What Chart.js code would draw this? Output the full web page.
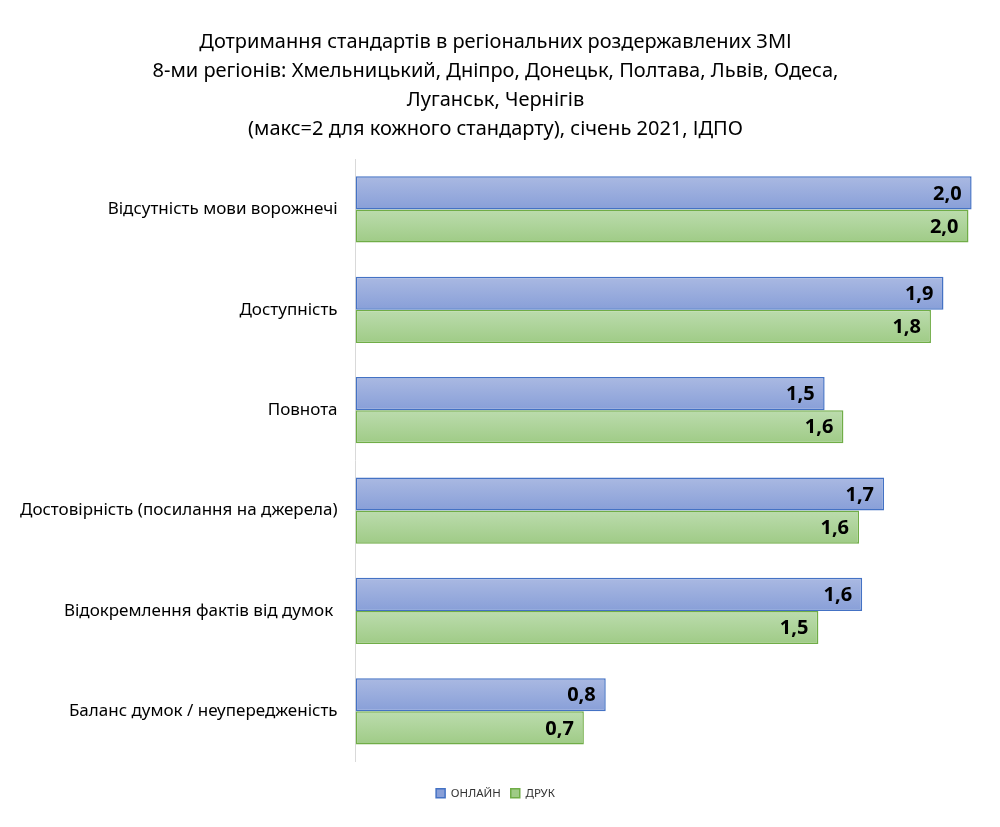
<!DOCTYPE html>
<html>
<head>
<meta charset="utf-8">
<script src="https://cdn.jsdelivr.net/npm/chart.js@4"></script>
<style>
  html, body { margin: 0; padding: 0; background: #fff; }
  #wrap { width: 1000px; height: 827px; }
</style>
</head>
<body>
<div id="wrap"><canvas id="chart"></canvas></div>
<script>
const categories = [
    'Відсутність мови ворожнечі',
    'Доступність',
    'Повнота',
    'Достовірність (посилання на джерела)',
    'Відокремлення фактів від думок ',
    'Баланс думок / неупередженість'
];
const onlineValues = [1.97, 1.88, 1.50, 1.69, 1.62, 0.80];
const printValues = [1.96, 1.84, 1.56, 1.61, 1.48, 0.73];
const seriesNames = ['ОНЛАЙН', 'ДРУК'];
const titleLines = [
    'Дотримання стандартів в регіональних роздержавлених ЗМІ',
    '8-ми регіонів: Хмельницький, Дніпро, Донецьк, Полтава, Львів, Одеса,',
    'Луганськ, Чернігів',
    '(макс=2 для кожного стандарту), січень 2021, ІДПО'
];

const FONT = "'Noto Sans', sans-serif";
const CAT_PCT = 0.66;

// vertical gradient per bar, like the office-style fill
function barGradient(top, bottom, first) {
    return function (context) {
        const chart = context.chart;
        const y = chart.scales.y;
        if (!chart.chartArea || !y || context.dataIndex === undefined) return top;
        const center = y.getPixelForValue(context.dataIndex);
        const band = Math.abs(y.getPixelForValue(1) - y.getPixelForValue(0));
        const h = band * CAT_PCT / 2;
        const y0 = first ? center - h : center;
        const g = chart.ctx.createLinearGradient(0, y0, 0, y0 + h);
        g.addColorStop(0, top);
        g.addColorStop(1, bottom);
        return g;
    };
}

const valueLabels = {
    id: 'valueLabels',
    afterDatasetsDraw(chart) {
        const ctx = chart.ctx;
        ctx.save();
        ctx.font = "bold 20px " + FONT;
        ctx.fillStyle = '#000';
        ctx.textAlign = 'right';
        ctx.textBaseline = 'middle';
        chart.data.datasets.forEach((ds, i) => {
            chart.getDatasetMeta(i).data.forEach((bar, j) => {
                const txt = ds.data[j].toFixed(1).replace('.', ',');
                ctx.fillText(txt, bar.x - 10, bar.y + 1);
            });
        });
        ctx.restore();
    }
};

new Chart(document.getElementById('chart'), {
    type: 'bar',
    data: {
        labels: categories,
        datasets: [
            {
                label: seriesNames[0],
                data: onlineValues,
                backgroundColor: barGradient('#aab9e2', '#889fd8', true),
                borderColor: '#4472c4',
                borderWidth: 1.5,
                borderSkipped: false,
                categoryPercentage: CAT_PCT,
                barPercentage: 1
            },
            {
                label: seriesNames[1],
                data: printValues,
                backgroundColor: barGradient('#bcdcae', '#9fcb86', false),
                borderColor: '#70ad47',
                borderWidth: 1.5,
                borderSkipped: false,
                categoryPercentage: CAT_PCT,
                barPercentage: 1
            }
        ]
    },
    options: {
        indexAxis: 'y',
        responsive: true,
        maintainAspectRatio: false,
        animation: false,
        layout: { padding: { top: 28, right: 19, bottom: 18, left: 10 } },
        scales: {
            x: {
                min: 0,
                max: 2,
                ticks: { display: false },
                grid: { display: false },
                border: { display: false },
                afterFit(scale) { scale.height = 16; }
            },
            y: {
                grid: { display: false },
                border: { display: true, color: '#d9d9d9', width: 1 },
                ticks: {
                    color: '#000',
                    font: { family: FONT, size: 17 },
                    padding: 10
                }
            }
        },
        plugins: {
            title: {
                display: true,
                text: titleLines,
                color: '#000',
                font: { family: FONT, size: 20, weight: 'normal', lineHeight: 1.44 },
                padding: { top: 0, bottom: 16 }
            },
            legend: {
                position: 'bottom',
                labels: {
                    color: '#333',
                    font: { family: FONT, size: 11.5 },
                    boxWidth: 9,
                    boxHeight: 9,
                    padding: 10
                }
            },
            tooltip: { enabled: false }
        }
    },
    plugins: [valueLabels]
});
</script>
</body>
</html>
